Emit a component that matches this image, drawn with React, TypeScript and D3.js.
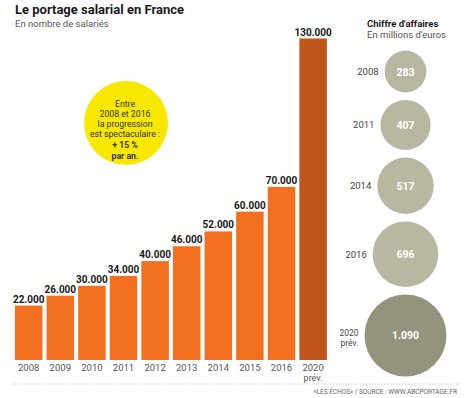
import React from 'react';
import * as d3 from 'd3';

// Salariés portés, par année
const years = ['2008', '2009', '2010', '2011', '2012', '2013', '2014', '2015', '2016', '2020'];
const employees = [22000, 26000, 30000, 34000, 40000, 46000, 52000, 60000, 70000, 130000];

// Chiffre d'affaires (millions d'euros)
const revenueYears = ['2008', '2011', '2014', '2016', '2020'];
const revenue = [283, 407, 517, 696, 1090];

const calloutLines = ['Entre', '2008 et 2016', 'la progression', 'est spectaculaire :', '+ 15 %', 'par an.'];

const W = 467;
const H = 398;
const FONT = 'Roboto, "Open Sans", sans-serif';
const fmt = (v: number) => d3.format(',')(v).replace(/,/g, '.');

const App = () => {
  const x = d3.scaleBand<string>()
    .domain(years)
    .range([12.9, 328.9])
    .paddingInner(0.13)
    .paddingOuter(0.065);

  const y = d3.scaleLinear()
    .domain([0, 130000])
    .range([360, 38.5]);

  const r = d3.scaleSqrt()
    .domain([0, 1090])
    .range([0, 41]);

  // stack the bubbles vertically, constant gap between edges
  const bubbleX = 405.5;
  const gap = 7.5;
  const bubbleY: number[] = [];
  revenue.forEach((v, i) => {
    if (i === 0) bubbleY.push(71.5);
    else bubbleY.push(bubbleY[i - 1] + r(revenue[i - 1]) + gap + r(v));
  });

  return (
    <svg width={W} height={H} style={{ position: 'absolute', left: 0, top: 0, background: '#fff' }}
      fontFamily={FONT}>
      {/* titles */}
      <text x={15} y={14} fontSize={13} fontWeight={700} fill="#1a1a1a">Le portage salarial en France</text>
      <text x={15} y={27} fontSize={9.5} fill="#555">En nombre de salariés</text>

      {/* bars */}
      {employees.map((v, i) => {
        const yr = years[i];
        const last = i === years.length - 1;
        const cx = (x(yr) as number) + x.bandwidth() / 2;
        return (
          <g key={yr}>
            <rect x={x(yr)} y={y(v)} width={x.bandwidth()} height={y(0) - y(v)}
              fill={last ? '#c0561b' : '#f37021'} />
            <text x={cx} y={y(v) - 3} textAnchor="middle"
              fontSize={10} fontWeight={700} fill="#1a1a1a">{fmt(v)}</text>
            <text x={cx} y={370.5} textAnchor="middle" fontSize={9.5} fill="#555">{yr}</text>
            {last && (
              <text x={cx} y={381} textAnchor="middle" fontSize={9} fill="#555">prév.</text>
            )}
          </g>
        );
      })}

      {/* callout */}
      <circle cx={126} cy={123} r={42} fill="#f8e800" />
      {calloutLines.map((t, i) => (
        <text key={t} x={125} y={106.5 + i * 10.2 + (i >= 4 ? 1 : 0)} textAnchor="middle"
          fontSize={8.7} fontWeight={i >= 4 ? 700 : 400} fill="#333">{t}</text>
      ))}

      {/* chiffre d'affaires */}
      <text x={367} y={27} fontSize={9.5} fontWeight={700} fill="#1a1a1a">Chiffre d'affaires</text>
      <text x={367} y={38} fontSize={9.5} fill="#555">En millions d'euros</text>
      {revenue.map((v, i) => {
        const last = i === revenue.length - 1;
        const cy = bubbleY[i];
        const rr = r(v);
        return (
          <g key={revenueYears[i]}>
            <circle cx={bubbleX} cy={cy} r={rr} fill={last ? '#93937e' : '#b8b7a1'} />
            <text x={bubbleX} y={cy + 4} textAnchor="middle" fontSize={10.5} fontWeight={700}
              fill="#fff">{fmt(v)}</text>
            {last ? (
              <g>
                <text x={bubbleX - rr - 6} y={cy + 1} textAnchor="end" fontSize={8.5} fill="#444">
                  {revenueYears[i]}
                </text>
                <text x={bubbleX - rr - 6} y={cy + 10.5} textAnchor="end" fontSize={8.5} fill="#444">
                  prév.
                </text>
              </g>
            ) : (
              <text x={bubbleX - rr - 6} y={cy + 3.5} textAnchor="end" fontSize={9.5} fill="#444">
                {revenueYears[i]}
              </text>
            )}
          </g>
        );
      })}

      {/* footer */}
      <line x1={12} x2={460} y1={384} y2={384} stroke="#bbb" strokeWidth={0.8} strokeDasharray="1.5,1.5" />
      <text x={457} y={393.5} textAnchor="end" fontSize={6.5} fill="#666">«LES ÉCHOS» / SOURCE : WWW.ABCPORTAGE.FR</text>
    </svg>
  );
};

export default App;
